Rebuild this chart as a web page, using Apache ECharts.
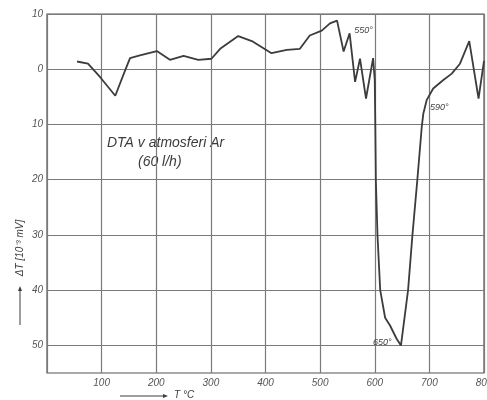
<!DOCTYPE html>
<html>
<head>
<meta charset="utf-8">
<script src="https://cdn.jsdelivr.net/npm/echarts@6/dist/echarts.min.js"></script>
<style>
  html, body { margin: 0; padding: 0; background: #fff; }
  #chart { width: 487px; height: 400px; }
</style>
</head>
<body>
<div id="chart"></div>
<script>
// temperature T [°C] and ΔT [10^-3 mV]
const temps = [55, 75, 97, 125, 143, 152, 170, 201, 225, 250, 277, 301, 317, 350, 375,
  411, 439, 463, 481, 503, 518, 531, 543, 554, 564, 573, 584, 597, 600, 601,
  602, 605, 610, 619, 628, 640, 648, 661, 669, 678, 686, 689, 695, 707, 725,
  741, 756, 773, 790, 800]
const deltaT = [1.4, 1.0, -1.4, -4.8, -0.2, 2.0, 2.5, 3.3, 1.7, 2.4, 1.7, 1.9, 3.7, 6.0, 5.1,
  2.9, 3.5, 3.7, 6.1, 7.0, 8.3, 8.8, 3.2, 6.5, -2.3, 1.9, -5.3, 2.0, -2.0, -10,
  -20, -30, -40, -45, -46.4, -48.8, -50, -40, -30, -20, -10.5, -8, -5.6, -3.5, -2.0,
  -0.8, 1.0, 5.1, -5.3, 1.5]

// annotated temperatures: [label, T, ΔT, side]
const notes = [
  ['550°', 555, 7.0, 'right'],
  ['590°', 694, -7.0, 'right'],
  ['650°', 638, -49.4, 'left']
]

const font = 'Liberation Sans'
const ink = '#3c3c3c'
const gridColor = '#7a7a7a'

const chart = echarts.init(document.getElementById('chart'), null, { renderer: 'canvas' })

// hand drawn arrows next to the axis names
function arrow(x1, y1, x2, y2) {
  const a = Math.atan2(y2 - y1, x2 - x1)
  const L = 5, W = 2
  const bx = x2 - L * Math.cos(a), by = y2 - L * Math.sin(a)
  return [
    { type: 'line', shape: { x1, y1, x2: bx, y2: by }, style: { stroke: ink, lineWidth: 1 } },
    {
      type: 'polygon',
      shape: { points: [[x2, y2], [bx - W * Math.sin(a), by + W * Math.cos(a)], [bx + W * Math.sin(a), by - W * Math.cos(a)]] },
      style: { fill: ink }
    }
  ]
}

const txt = (text, x, y, size, extra) => ({
  type: 'text', x, y, ...extra,
  style: { text, fill: ink, fontSize: size, fontStyle: 'italic', fontFamily: font, align: 'left', verticalAlign: 'middle' }
})

const option = {
  backgroundColor: '#fff',
  animation: false,
  grid: {
    left: 47, right: 3, top: 14, bottom: 27,
    outerBoundsMode: 'none',
    containLabel: false,
    show: true, borderColor: '#555', borderWidth: 1.2
  },
  xAxis: {
    type: 'value', min: 0, max: 800, interval: 100,
    axisLine: { show: false },
    axisTick: { show: false },
    splitLine: { show: true, lineStyle: { color: gridColor, width: 1.2 } },
    axisLabel: {
      margin: 5, color: '#555', fontSize: 10, fontStyle: 'italic', fontFamily: font,
      formatter: (v) => (v === 0 ? '' : String(v))
    }
  },
  yAxis: {
    type: 'value', min: -55, max: 10, interval: 5,
    axisLine: { show: false },
    axisTick: { show: false },
    splitLine: { show: true, lineStyle: { color: ['transparent', gridColor], width: 1.2 } },
    axisLabel: {
      margin: 4, color: '#555', fontSize: 10, fontStyle: 'italic', fontFamily: font,
      formatter: (v) => (v % 10 === 0 ? String(Math.abs(v)) : '')
    }
  },
  graphic: [
    txt('DTA v atmosferi Ar', 107, 143, 14),
    txt('(60 l/h)', 138, 162, 14),
    {
      type: 'text', x: 20, y: 248, rotation: Math.PI / 2,
      style: {
        text: 'ΔT [10⁻³ mV]', fill: ink, fontSize: 10, fontStyle: 'italic', fontFamily: font,
        align: 'center', verticalAlign: 'middle'
      }
    },
    ...arrow(20, 325, 20, 286),
    ...arrow(120, 396, 168, 396),
    txt('T °C', 174, 395, 10)
  ],
  series: [
    {
      type: 'line',
      data: temps.map((t, i) => [t, deltaT[i]]),
      symbol: 'none',
      smooth: false,
      lineStyle: { color: ink, width: 1.8 },
      markPoint: {
        symbol: 'circle', symbolSize: 0,
        silent: true,
        data: notes.map((n) => ({
          coord: [n[1], n[2]],
          label: {
            show: true, formatter: n[0], position: n[3], distance: 4,
            color: '#444', fontSize: 9, fontStyle: 'italic', fontFamily: font
          }
        }))
      }
    }
  ]
}

chart.setOption(option)
</script>
</body>
</html>
